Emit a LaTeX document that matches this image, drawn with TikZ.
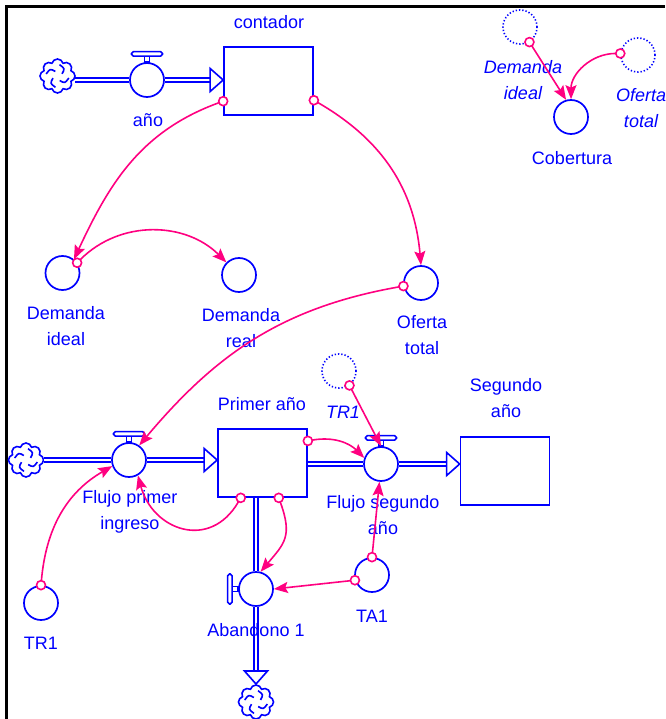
\documentclass[tikz,border=0pt]{standalone}
\usepackage{fontspec}
\setmainfont{Liberation Sans}
\usetikzlibrary{arrows.meta, calc, shapes.symbols}
\definecolor{vsblue}{HTML}{0000FF}
\definecolor{vspink}{HTML}{FF0080}

% valve handles and open flow heads
\newcommand{\handletop}[1]{%
  \draw[flowline, fill=white] ($(#1.north)+(-2.5,0)$) rectangle ($(#1.north)+(2.5,6)$);
  \draw[flowline, fill=white, rounded corners=1.8pt] ($(#1.north)+(-15.5,6)$) rectangle ($(#1.north)+(15.5,10.5)$);}
\newcommand{\handleleft}[1]{%
  \draw[flowline, fill=white] ($(#1.west)+(0,-2.5)$) rectangle ($(#1.west)+(-6,2.5)$);
  \draw[flowline, fill=white, rounded corners=1.8pt] ($(#1.west)+(-6,-15)$) rectangle ($(#1.west)+(-10.5,15)$);}
\newcommand{\flowhead}[2]{%
  \draw[flowline, fill=white, rotate around={#2:(#1)}] (#1) -- ++(-13,11.5) -- ++(0,-23) -- cycle;}

\tikzset{
  cloudpic/.pic={
    \node[cloud, cloud puffs=8, aspect=1, draw=vsblue, line width=1.6pt, fill=white,
          minimum width=35pt, minimum height=34pt, inner sep=0pt, outer sep=0pt] (-c) {};
    \foreach \a in {0,90,180,270}
      \draw[flowline, rotate=\a] (80:11.5) .. controls (45:10.5) .. (25:5);
  },
}

\begin{document}
\begin{tikzpicture}[x=1pt, y=1pt,
  stock/.style={rectangle, draw=vsblue, line width=1.7pt, minimum width=89pt, minimum height=68pt, inner sep=0pt},
  valve/.style={circle, draw=vsblue, fill=white, line width=1.7pt, minimum size=34pt, inner sep=0pt},
  aux/.style={circle, draw=vsblue, line width=1.7pt, minimum size=34pt, inner sep=0pt},
  ghost/.style={aux, line width=1.6pt, dash pattern=on 1.3pt off 2pt},
  tap/.style={circle, draw=vspink, fill=white, line width=1.6pt, minimum size=9pt, inner sep=0pt, outer sep=0pt},
  lbl/.style={font=\fontsize{18}{26}\selectfont, text=vsblue, align=center, inner sep=0pt},
  glbl/.style={lbl, font=\fontsize{18}{26}\selectfont\itshape},
  flowline/.style={draw=vsblue, line width=1.6pt},
  pipe/.style={draw=vsblue, line width=1.6pt, double=white, double distance=2.6pt},
  link/.style={draw=vspink, line width=1.6pt, -{Stealth[length=14pt, width=11pt, inset=2.5pt]}},
]
  \useasboundingbox (0,0) rectangle (665,-719);
  \draw[line width=2.3pt] (6.5,-719) -- (6.5,-6.5) -- (665,-6.5);

  % stocks
  \node[stock] (contador) at (268.5,-81) {};
  \node[stock] (primer) at (262.5,-463) {};
  \node[stock] (segundo) at (505,-471) {};

  % valves
  \node[valve] (anio) at (147,-80) {};
  \node[valve] (fpi) at (129,-460) {};
  \node[valve] (fsa) at (381,-464) {};
  \node[valve] (aband) at (256,-589) {};

  % auxiliaries and ghosts
  \node[aux] (dideal) at (62.5,-273) {};
  \node[aux] (dreal) at (239,-275) {};
  \node[aux] (oferta) at (421,-283) {};
  \node[aux] (cobertura) at (571,-117) {};
  \node[aux] (tr1) at (41,-603) {};
  \node[aux] (ta1) at (372,-575) {};
  \node[ghost] (gdideal) at (520,-27) {};
  \node[ghost] (goferta) at (638,-55) {};
  \node[ghost] (gtr1) at (339,-371) {};

  % clouds
  \pic (cloudA) at (57.5,-76) {cloudpic};
  \pic (cloudB) at (26,-460) {cloudpic};
  \pic (cloudC) at (256,-702) {cloudpic};

  % flows
  \coordinate (tipA) at (anio.east -| contador.west);
  \coordinate (tipB) at (fpi.east -| primer.west);
  \coordinate (tipC) at (fsa.east -| segundo.west);
  \coordinate (tipD) at ($(aband.south |- cloudC-c.north)+(0,1)$);
  \draw[pipe] (anio.west -| cloudA-c.east) -- (anio.west);
  \draw[pipe] (anio.east) -- ($(tipA)+(-13,0)$);
  \flowhead{tipA}{0}
  \draw[pipe] (cloudB-c.east) -- (fpi.west);
  \draw[pipe] (fpi.east) -- ($(tipB)+(-13,0)$);
  \flowhead{tipB}{0}
  \draw[pipe] (fsa.west -| primer.east) -- (fsa.west);
  \draw[pipe] (fsa.east) -- ($(tipC)+(-13,0)$);
  \flowhead{tipC}{0}
  \draw[pipe] (aband.north |- primer.south) -- (aband.north);
  \draw[pipe] (aband.south) -- ($(tipD)+(0,13)$);
  \flowhead{tipD}{-90}
  \handletop{anio}
  \handletop{fpi}
  \handletop{fsa}
  \handleleft{aband}

  % labels
  \node[lbl] (lcontador) at (269,-22) {contador};
  \node[lbl] (lanio) at (148,-120) {año};
  \node[lbl] (ldideal) at (66,-326) {Demanda\\ideal};
  \node[lbl] (ldreal) at (241,-328) {Demanda\\real};
  \node[lbl] (loferta) at (422,-335) {Oferta\\total};
  \node[glbl] (lgdideal) at (523,-80) {Demanda\\ideal};
  \node[glbl] (lgoferta) at (641,-108) {Oferta\\total};
  \node[lbl] (lcobertura) at (572,-158) {Cobertura};
  \node[lbl] (lprimer) at (262,-404) {Primer año};
  \node[lbl] (lsegundo) at (506,-398) {Segundo\\año};
  \node[lbl] (lfpi) at (130,-512) {Flujo primer\\ingreso};
  \node[lbl] (lfsa) at (383,-515) {Flujo segundo\\año};
  \node[glbl] (lgtr1) at (343,-412) {TR1};
  \node[lbl] (ltr1) at (41,-643) {TR1};
  \node[lbl] (lta1) at (372,-616) {TA1};
  \node[lbl] (laband) at (256,-630) {Abandono 1};

  % connector taps
  \node[tap] (k1) at (contador.204.7) {};
  \node[tap] (k2) at (dideal.35) {};
  \node[tap] (k3) at (contador.-23) {};
  \node[tap] (k4) at (oferta.190) {};
  \node[tap] (k5) at (gdideal.-58) {};
  \node[tap] (k6) at (goferta.175) {};
  \node[tap] (k7) at (tr1.north) {};
  \node[tap] (k8) at (primer.238) {};
  \node[tap] (k9) at (primer.26) {};
  \node[tap] (k10) at (gtr1.-54) {};
  \node[tap] (k11) at (ta1.north) {};
  \node[tap] (k12) at (ta1.197) {};
  \node[tap] (k13) at (primer.-65.5) {};

  % connectors
  \draw[link] (k1) to[out=200, in=65] (dideal.50);
  \draw[link] (k2) to[out=45, in=135] (dreal.135);
  \draw[link] (k3) to[out=-30, in=95] (oferta.north);
  \draw[link] (k4) to[out=190, in=50] (fpi.55);
  \draw[link] (k5) -- (cobertura.106);
  \draw[link] (k6) to[out=180, in=90] (cobertura.north);
  \draw[link] (k7) to[out=85, in=210] (fpi.200);
  \draw[link] (k8) to[out=240, in=-75, looseness=1.4] (fpi.-60);
  \draw[link] (k9) to[out=10, in=135] (fsa.160);
  \draw[link] (k10) -- (fsa.north);
  \draw[link] (k11) -- (fsa.-95);
  \draw[link] (k12) -- (aband.east);
  \draw[link] (k13) to[out=-70, in=50, looseness=1.3] (aband.75);
\end{tikzpicture}
\end{document}
